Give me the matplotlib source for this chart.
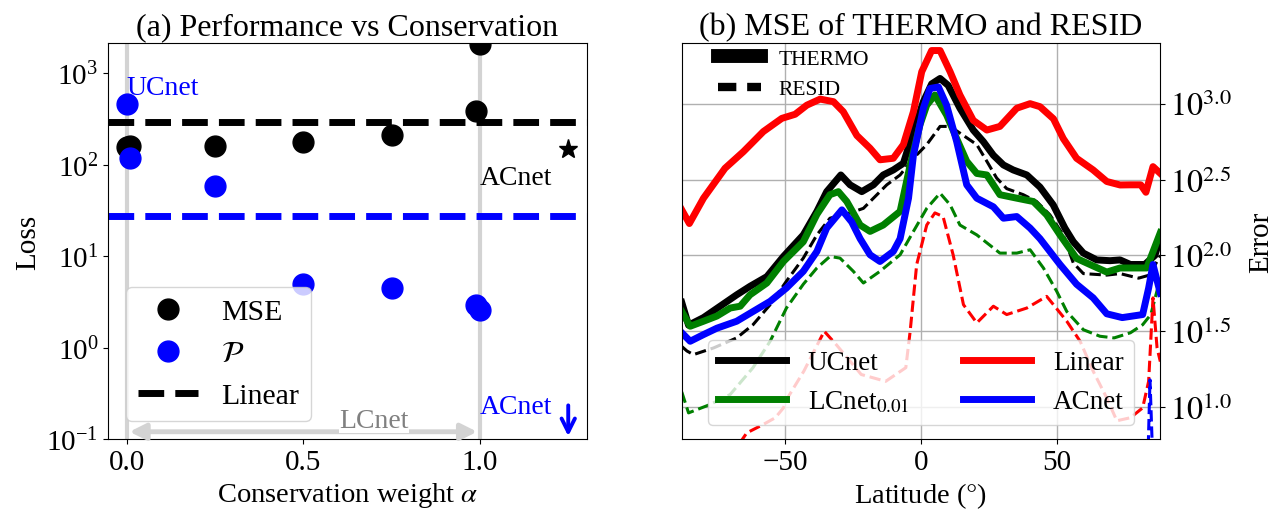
import numpy as np
import matplotlib
matplotlib.use('Agg')
import matplotlib.pyplot as plt
from matplotlib.lines import Line2D
from matplotlib.ticker import NullLocator, FixedLocator

plt.rcParams['font.family'] = 'serif'
plt.rcParams['font.serif'] = ['Liberation Serif', 'DejaVu Serif']
plt.rcParams['mathtext.fontset'] = 'stix'

# ---- (a) performance vs conservation ----
alpha = [0.0, 0.01, 0.25, 0.5, 0.75, 0.99, 1.0]
mse_loss = [155, 160, 160, 176, 210, 385, 2080]
pen_loss = [457, 120, 58, 4.9, 4.5, 2.95, 2.6]
lin_mse = 290
lin_pen = 27.5
acnet_alpha = 1.25
acnet_mse = 148

# ---- (b) MSE vs latitude, values as log10(error) ----
lat_lin_t = [-88, -85.2, -80, -72.1, -65.3, -58, -51.2, -46.3, -42, -37.1, -32.2, -28.6, -23.6, -18.75, -15.1,
             -10.2, -6.5, -2.8, 0.25, 3.9, 7.0, 10.7, 14.3, 19.2, 24.2, 29.0, 35.2, 40.1, 43.75, 48.7, 52.3,
             57.2, 63.3, 68.3, 73.2, 77, 80.8, 82.7, 85.3, 88]
lin_t = [2.30, 2.21, 2.377, 2.574, 2.684, 2.816, 2.903, 2.93, 2.99, 3.03, 3.013, 2.947, 2.79, 2.706, 2.63,
         2.64, 2.73, 2.947, 3.21, 3.35, 3.35, 3.21, 3.057, 2.89, 2.826, 2.85, 2.97, 3.0, 2.98, 2.90, 2.77,
         2.64, 2.563, 2.487, 2.464, 2.465, 2.465, 2.416, 2.585, 2.54]

lat_uc_t = [-88, -85.5, -80, -73.9, -67.8, -62.9, -56.7, -50.6, -43.3, -38.3, -34.7, -29.5, -26.1, -21.8, -17.5,
            -13.9, -10.2, -6.5, -2.8, 0.85, 3.9, 7.0, 10.0, 14.3, 19.2, 22.9, 26.6, 30.3, 33.9, 38.9, 43.75,
            48.6, 52.9, 56.0, 59.7, 64.6, 69.5, 73.2, 77, 82.3, 86, 88]
uc_t = [1.69, 1.54, 1.59, 1.665, 1.74, 1.796, 1.86, 1.993, 2.135, 2.29, 2.42, 2.53, 2.465, 2.42, 2.465,
        2.53, 2.563, 2.607, 2.816, 3.013, 3.13, 3.166, 3.12, 2.97, 2.826, 2.75, 2.66, 2.596, 2.563, 2.53, 2.45,
        2.333, 2.18, 2.09, 2.015, 1.97, 1.965, 1.97, 1.94, 1.94, 2.0, 2.12]

lat_lc_t = [-88, -84.9, -80, -75.1, -70.2, -66.5, -62.9, -56.7, -50.6, -43.3, -38.3, -33.5, -30.4, -27.3, -22.4,
            -18.75, -13.9, -7.7, -4.0, -0.4, 2.1, 5.1, 9.4, 13.1, 16.8, 20.5, 24.2, 29.0, 35.2, 41.3, 46.2,
            51.1, 57.2, 62.1, 68.3, 73.2, 77, 83, 88]
lc_t = [1.63, 1.533, 1.566, 1.60, 1.653, 1.665, 1.74, 1.818, 1.96, 2.09, 2.27, 2.40, 2.42, 2.355, 2.2,
        2.158, 2.2, 2.29, 2.596, 2.86, 2.99, 3.057, 2.925, 2.77, 2.62, 2.54, 2.53, 2.40, 2.377, 2.355, 2.267,
        2.135, 1.98, 1.94, 1.89, 1.917, 1.917, 1.917, 2.15]

lat_ac_t = [-88, -84.9, -80, -75.1, -67.8, -61.8, -55.5, -49.5, -43.3, -38.3, -34.7, -29.1, -25.5, -22.4, -18.75,
            -15.1, -10.2, -7.7, -4.6, -2.8, 0.85, 3.3, 6.4, 9.4, 13.1, 16.8, 20.5, 26.6, 30.3, 35.2, 40.1,
            43.75, 51.1, 57.2, 63.3, 68.3, 74, 81.5, 83.7, 85.3, 88]
ac_t = [1.49, 1.434, 1.478, 1.52, 1.566, 1.63, 1.697, 1.785, 1.895, 2.026, 2.18, 2.30, 2.22, 2.11, 2.004,
        1.96, 2.026, 2.11, 2.377, 2.66, 2.97, 3.10, 3.11, 2.99, 2.75, 2.465, 2.377, 2.32, 2.245, 2.256, 2.18,
        2.11, 1.94, 1.81, 1.72, 1.615, 1.59, 1.61, 1.785, 1.94, 1.75]

lat_uc_r = [-88, -86.1, -83.7, -76.3, -67.8, -61.8, -55.5, -49.5, -43.3, -38.3, -33.5, -26.1, -21.2, -17.5,
            -12.6, -7.7, -2.8, 2.1, 7.0, 10.7, 15.6, 20.5, 24.2, 27.8, 31.5, 37.6, 42.5, 47.4, 52.3, 56.0,
            59.7, 68.3, 73.2, 80, 84, 88]
uc_r = [1.40, 1.37, 1.346, 1.39, 1.456, 1.543, 1.675, 1.83, 1.982, 2.135, 2.245, 2.28, 2.31, 2.377,
        2.465, 2.53, 2.64, 2.73, 2.85, 2.85, 2.79, 2.73, 2.62, 2.51, 2.44, 2.40, 2.355, 2.267, 2.135, 1.95,
        1.88, 1.87, 1.88, 1.85, 1.87, 2.0]

lat_lc_r = [-88, -85.5, -77.6, -70.2, -61.8, -55.5, -49.5, -43.3, -38.3, -33.5, -29.8, -24.9, -21.2, -15.1,
            -7.7, -2.8, 2.1, 7.0, 10.7, 14.3, 20.5, 29.0, 35.2, 40.1, 45.0, 49.9, 53.6, 59.7, 65.8, 71,
            77, 81.5, 84.5, 88]
lc_r = [1.10, 0.962, 1.017, 1.083, 1.26, 1.434, 1.653, 1.81, 1.917, 1.993, 1.982, 1.895, 1.818, 1.895,
        2.004, 2.158, 2.31, 2.41, 2.333, 2.2, 2.135, 2.015, 2.015, 2.037, 1.917, 1.763, 1.63, 1.51, 1.467, 1.456,
        1.49, 1.543, 1.61, 1.85]

lat_lin_r = [-88, -75, -66, -64.1, -58, -53.6, -50.6, -49.1, -43.1, -35.6, -31.1, -22, -13, -5.6, -4, -1.6,
             2.1, 5.1, 8.1, 11.8, 15.6, 20.5, 26.6, 31.5, 38.9, 46.2, 48.7, 53.6, 58.5, 63.3, 68.3, 72,
             77, 81.5, 83.7, 85.3, 86.8, 88]
lin_r = [0.40, 0.55, 0.78, 0.83, 0.886, 0.93, 0.995, 1.06, 1.237, 1.50, 1.41, 1.215, 1.17, 1.26, 1.50, 1.94,
         2.2, 2.28, 2.256, 2.004, 1.675, 1.555, 1.665, 1.61, 1.653, 1.73, 1.675, 1.566, 1.434, 1.237, 1.06, 0.91,
         0.93, 0.995, 1.17, 1.72, 1.39, 1.3]

lat_ac_r = [-88, -40, 0, 40, 83.2, 84.2, 85.5, 88]
ac_r = [0.5, 0.5, 0.5, 0.5, 0.5, 1.18, 0.5, 0.5]

models = ['UCnet', 'LCnet$_{0.01}$', 'Linear', 'ACnet']
colors = ['black', 'green', 'red', 'blue']

fig = plt.figure(figsize=(12.81, 5.10), dpi=100)
ax1 = fig.add_axes([0.0843, 0.1373, 0.3739, 0.7765])
ax2 = fig.add_axes([0.5322, 0.1373, 0.3736, 0.7765])

# left panel
ax1.axvline(0, color='lightgray', lw=3, zorder=0)
ax1.axvline(1, color='lightgray', lw=3, zorder=0)
ax1.plot(alpha, mse_loss, 'o', color='black', ms=15, label='MSE')
ax1.plot(alpha, pen_loss, 'o', color='blue', ms=15, label=r'$\mathcal{P}$')
ax1.axhline(lin_mse, color='black', ls='--', lw=5, label='Linear')
ax1.axhline(lin_pen, color='blue', ls='--', lw=5)
ax1.plot(acnet_alpha, acnet_mse, '*', color='black', ms=14)
ax1.set_yscale('log')
ax1.set_ylim(0.1, 2150)
ax1.set_xlim(-0.053, 1.303)
ax1.yaxis.set_minor_locator(NullLocator())
ax1.set_xticks([0.0, 0.5, 1.0])
ax1.text(0.0, 590, 'UCnet', color='blue', fontsize=20)
ax1.text(1.0, 62, 'ACnet', color='black', fontsize=20)
ax1.text(1.0, 0.19, 'ACnet', color='blue', fontsize=20)
ax1.annotate('', xy=(1.25, 0.1), xytext=(1.25, 0.25),
             arrowprops=dict(arrowstyle='->', color='blue', lw=2.8, mutation_scale=24))
ax1.annotate('', xy=(0.0, 0.12), xytext=(1.0, 0.12),
             arrowprops=dict(arrowstyle='<|-|>', color='lightgray', lw=3.5, mutation_scale=24))
ax1.text(0.7, 0.117, 'LCnet', color='gray', fontsize=20, ha='center', va='bottom',
         bbox=dict(facecolor='white', edgecolor='none', pad=0))
ax1.legend(loc='lower left', fontsize=21.5, borderaxespad=0.6, handlelength=2)
ax1.set_xlabel(r'Conservation weight $\alpha$', fontsize=20.5)
ax1.set_ylabel('Loss', fontsize=21)
ax1.set_title('(a) Performance vs Conservation', fontsize=23)
ax1.tick_params(labelsize=21)

# right panel
thermo = [(lat_uc_t, uc_t), (lat_lc_t, lc_t), (lat_lin_t, lin_t), (lat_ac_t, ac_t)]
resid = [(lat_uc_r, uc_r), (lat_lc_r, lc_r), (lat_lin_r, lin_r), (lat_ac_r, ac_r)]
handles = []
for name, c, (lt, vt), (lr, vr) in zip(models, colors, thermo, resid):
    ax2.plot(lr, 10 ** np.array(vr), color=c, ls='--', lw=2.2)
    h, = ax2.plot(lt, 10 ** np.array(vt), color=c, lw=5, label=name)
    handles.append(h)
ax2.set_yscale('log')
ax2.set_xlim(-88, 88)
ax2.set_ylim(10 ** 0.79, 10 ** 3.4)
ax2.yaxis.tick_right()
ax2.yaxis.set_label_position('right')
ax2.yaxis.set_major_locator(FixedLocator([10 ** 1.0, 10 ** 1.5, 10 ** 2.0, 10 ** 2.5, 10 ** 3.0]))
ax2.yaxis.set_minor_locator(NullLocator())
ax2.set_yticklabels(['$10^{1.0}$', '$10^{1.5}$', '$10^{2.0}$', '$10^{2.5}$', '$10^{3.0}$'])
ax2.set_xticks([-50, 0, 50])
ax2.grid(True, color='#b0b0b0', lw=1)
ax2.tick_params(axis='x', labelsize=21)
ax2.tick_params(axis='y', labelsize=23)
ax2.set_xlabel(r'Latitude ($\degree$)', fontsize=20.5)
ax2.set_ylabel('Error', fontsize=21, labelpad=12)
ax2.set_title('(b) MSE of THERMO and RESID', fontsize=23)
leg = ax2.legend(handles=handles, loc='lower center', ncol=2, fontsize=19.5, handlelength=2.5,
                 columnspacing=2.0)
ax2.add_artist(leg)
style_h = [Line2D([], [], color='black', lw=10),
           Line2D([], [], color='black', lw=6, ls=(0, (2.2, 1.3)))]
ax2.legend(style_h, ['THERMO', 'RESID'], loc='upper left', frameon=False, fontsize=15.5,
           bbox_to_anchor=(0.035, 1.035), handlelength=2.0)

fig.savefig('out.png', dpi=100)
